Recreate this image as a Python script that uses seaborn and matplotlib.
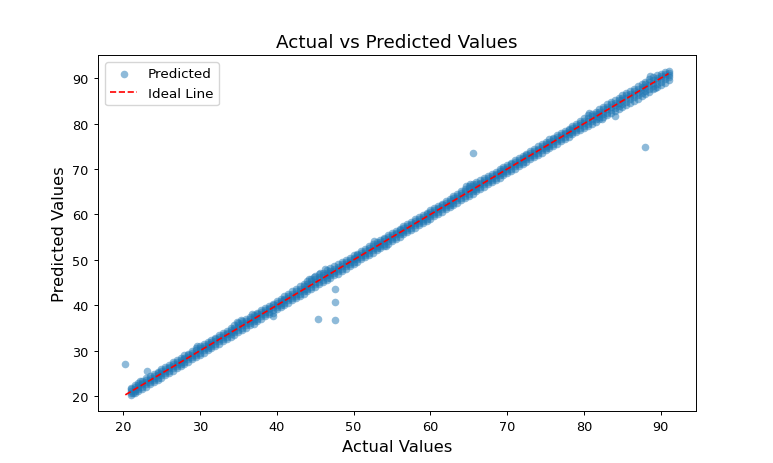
import matplotlib
matplotlib.use("Agg")
import matplotlib.pyplot as plt
import seaborn as sns
import pandas as pd

# Dense band of points along the diagonal:
# each actual value has five predicted values spread across the band.
band_actual = [
    21.0, 21.5, 22.0, 22.5, 23.0, 23.5, 24.0, 24.5, 25.0, 25.5,
    26.0, 26.5, 27.0, 27.5, 28.0, 28.5, 29.0, 29.5, 30.0, 30.5,
    31.0, 31.5, 32.0, 32.5, 33.0, 33.5, 34.0, 34.5, 35.0, 35.5,
    36.0, 36.5, 37.0, 37.5, 38.0, 38.5, 39.0, 39.5, 40.0, 40.5,
    41.0, 41.5, 42.0, 42.5, 43.0, 43.5, 44.0, 44.5, 45.0, 45.5,
    46.0, 46.5, 47.0, 47.5, 48.0, 48.5, 49.0, 49.5, 50.0, 50.5,
    51.0, 51.5, 52.0, 52.5, 53.0, 53.5, 54.0, 54.5, 55.0, 55.5,
    56.0, 56.5, 57.0, 57.5, 58.0, 58.5, 59.0, 59.5, 60.0, 60.5,
    61.0, 61.5, 62.0, 62.5, 63.0, 63.5, 64.0, 64.5, 65.0, 65.5,
    66.0, 66.5, 67.0, 67.5, 68.0, 68.5, 69.0, 69.5, 70.0, 70.5,
    71.0, 71.5, 72.0, 72.5, 73.0, 73.5, 74.0, 74.5, 75.0, 75.5,
    76.0, 76.5, 77.0, 77.5, 78.0, 78.5, 79.0, 79.5, 80.0, 80.5,
    81.0, 81.5, 82.0, 82.5, 83.0, 83.5, 84.0, 84.5, 85.0, 85.5,
    86.0, 86.5, 87.0, 87.5, 88.0, 88.5, 89.0, 89.5, 90.0, 90.5,
    91.0,
]
band_pred_upper = [
    21.9, 22.4, 23.0, 23.4, 23.9, 24.5, 24.9, 25.4, 26.0, 26.4,
    26.9, 27.5, 27.9, 28.4, 29.0, 29.4, 29.9, 30.6, 31.0, 31.4,
    32.0, 32.4, 32.9, 33.5, 34.0, 34.4, 35.1, 35.6, 36.2, 36.5,
    37.0, 37.4, 37.9, 38.4, 38.9, 39.4, 39.9, 40.4, 40.9, 41.4,
    42.0, 42.5, 43.1, 43.6, 44.2, 44.8, 45.4, 45.9, 46.4, 46.8,
    47.2, 47.7, 48.2, 48.6, 49.0, 49.5, 50.0, 50.5, 51.0, 51.4,
    51.9, 52.4, 53.0, 53.6, 54.0, 54.4, 54.9, 55.4, 55.9, 56.4,
    56.9, 57.4, 57.9, 58.4, 58.9, 59.4, 59.9, 60.4, 60.9, 61.4,
    61.9, 62.4, 62.9, 63.5, 64.0, 64.6, 65.2, 65.7, 66.3, 66.7,
    67.1, 67.5, 68.0, 68.4, 68.9, 69.4, 69.9, 70.4, 70.9, 71.4,
    71.9, 72.4, 72.9, 73.4, 73.9, 74.4, 75.0, 75.5, 76.0, 76.5,
    76.9, 77.4, 77.9, 78.4, 78.9, 79.5, 80.0, 80.6, 81.2, 81.8,
    82.2, 82.6, 83.1, 83.6, 84.2, 84.8, 85.2, 85.6, 86.2, 86.8,
    87.2, 87.6, 88.2, 88.8, 89.2, 89.7, 90.2, 90.6, 91.0, 91.3,
    91.5,
]
band_pred_upper_mid = [
    21.5, 22.0, 22.5, 23.0, 23.5, 24.0, 24.5, 25.0, 25.5, 26.0,
    26.5, 27.0, 27.5, 28.0, 28.5, 29.0, 29.5, 30.1, 30.6, 31.0,
    31.5, 32.0, 32.5, 33.0, 33.5, 34.0, 34.6, 35.1, 35.7, 36.1,
    36.5, 37.0, 37.5, 38.0, 38.5, 39.0, 39.5, 40.0, 40.5, 41.0,
    41.5, 42.0, 42.6, 43.1, 43.7, 44.2, 44.8, 45.3, 45.8, 46.3,
    46.7, 47.2, 47.6, 48.1, 48.5, 49.0, 49.5, 50.0, 50.5, 51.0,
    51.5, 52.0, 52.6, 53.1, 53.5, 54.0, 54.5, 55.0, 55.5, 56.0,
    56.5, 57.0, 57.5, 58.0, 58.5, 59.0, 59.5, 60.0, 60.5, 61.0,
    61.5, 62.0, 62.5, 63.0, 63.6, 64.1, 64.7, 65.2, 65.8, 66.2,
    66.6, 67.0, 67.5, 68.0, 68.5, 69.0, 69.5, 70.0, 70.5, 71.0,
    71.5, 72.0, 72.5, 73.0, 73.5, 74.0, 74.5, 75.0, 75.5, 76.0,
    76.5, 77.0, 77.5, 78.0, 78.5, 79.0, 79.5, 80.1, 80.6, 81.2,
    81.6, 82.1, 82.6, 83.1, 83.6, 84.2, 84.6, 85.1, 85.6, 86.2,
    86.6, 87.1, 87.6, 88.1, 88.6, 89.1, 89.6, 90.1, 90.5, 90.9,
    91.2,
]
band_pred_mid = [
    21.1, 21.6, 22.1, 22.6, 23.1, 23.6, 24.1, 24.6, 25.1, 25.6,
    26.1, 26.6, 27.1, 27.6, 28.1, 28.6, 29.1, 29.6, 30.1, 30.6,
    31.1, 31.6, 32.1, 32.6, 33.1, 33.6, 34.1, 34.6, 35.2, 35.6,
    36.1, 36.6, 37.1, 37.6, 38.1, 38.6, 39.1, 39.6, 40.1, 40.6,
    41.1, 41.6, 42.1, 42.6, 43.2, 43.7, 44.2, 44.7, 45.2, 45.7,
    46.2, 46.6, 47.1, 47.6, 48.1, 48.6, 49.1, 49.6, 50.1, 50.6,
    51.1, 51.6, 52.1, 52.6, 53.1, 53.6, 54.1, 54.6, 55.1, 55.6,
    56.1, 56.6, 57.1, 57.6, 58.1, 58.6, 59.1, 59.6, 60.1, 60.6,
    61.1, 61.6, 62.1, 62.6, 63.1, 63.6, 64.2, 64.7, 65.2, 65.7,
    66.1, 66.6, 67.1, 67.6, 68.1, 68.6, 69.1, 69.6, 70.1, 70.6,
    71.1, 71.6, 72.1, 72.6, 73.1, 73.6, 74.1, 74.6, 75.1, 75.6,
    76.1, 76.6, 77.1, 77.6, 78.1, 78.6, 79.1, 79.6, 80.1, 80.6,
    81.1, 81.6, 82.1, 82.6, 83.1, 83.6, 84.1, 84.6, 85.1, 85.6,
    86.1, 86.5, 87.0, 87.5, 88.0, 88.5, 89.0, 89.5, 90.0, 90.4,
    90.8,
]
band_pred_lower_mid = [
    20.6, 21.1, 21.6, 22.1, 22.6, 23.1, 23.6, 24.1, 24.6, 25.1,
    25.6, 26.1, 26.6, 27.1, 27.6, 28.1, 28.6, 29.1, 29.6, 30.1,
    30.6, 31.1, 31.6, 32.1, 32.6, 33.1, 33.6, 34.1, 34.6, 35.1,
    35.6, 36.1, 36.6, 37.1, 37.6, 38.1, 38.6, 39.0, 39.6, 40.1,
    40.6, 41.1, 41.6, 42.1, 42.6, 43.1, 43.6, 44.1, 44.6, 45.1,
    45.6, 46.1, 46.6, 47.1, 47.6, 48.1, 48.6, 49.1, 49.6, 50.1,
    50.6, 51.1, 51.6, 52.1, 52.6, 53.1, 53.6, 54.1, 54.6, 55.1,
    55.6, 56.1, 56.6, 57.1, 57.6, 58.1, 58.6, 59.1, 59.6, 60.1,
    60.6, 61.1, 61.6, 62.1, 62.6, 63.1, 63.6, 64.1, 64.6, 65.1,
    65.6, 66.1, 66.6, 67.1, 67.6, 68.1, 68.6, 69.1, 69.6, 70.1,
    70.6, 71.1, 71.6, 72.1, 72.6, 73.1, 73.6, 74.1, 74.6, 75.1,
    75.6, 76.1, 76.6, 77.1, 77.6, 78.1, 78.6, 79.1, 79.5, 80.0,
    80.5, 81.0, 81.5, 82.0, 82.4, 82.9, 83.4, 83.9, 84.4, 84.8,
    85.3, 85.8, 86.2, 86.7, 87.2, 87.7, 88.2, 88.7, 89.2, 89.7,
    90.2,
]
band_pred_lower = [
    20.3, 20.7, 21.1, 21.6, 22.1, 22.6, 23.1, 23.6, 24.1, 24.6,
    25.1, 25.6, 26.1, 26.6, 27.1, 27.6, 28.1, 28.6, 29.1, 29.6,
    30.1, 30.6, 31.1, 31.6, 32.1, 32.6, 33.0, 33.5, 34.1, 34.6,
    35.1, 35.6, 36.0, 36.5, 37.0, 37.6, 38.1, 38.4, 39.1, 39.6,
    40.1, 40.6, 41.1, 41.6, 42.1, 42.6, 43.1, 43.6, 44.1, 44.6,
    45.1, 45.6, 46.1, 46.6, 47.0, 47.6, 48.1, 48.6, 49.1, 49.6,
    50.1, 50.6, 51.1, 51.6, 52.1, 52.6, 53.1, 53.6, 54.1, 54.6,
    55.1, 55.6, 56.1, 56.6, 57.1, 57.6, 58.1, 58.6, 59.1, 59.6,
    60.1, 60.6, 61.1, 61.6, 62.1, 62.6, 63.1, 63.6, 64.1, 64.6,
    65.1, 65.6, 66.1, 66.6, 67.1, 67.6, 68.1, 68.6, 69.1, 69.6,
    70.1, 70.6, 71.1, 71.6, 72.1, 72.6, 73.1, 73.6, 74.1, 74.6,
    75.1, 75.6, 76.1, 76.6, 77.1, 77.6, 78.1, 78.6, 79.0, 79.5,
    80.0, 80.4, 80.9, 81.4, 81.9, 82.3, 82.7, 83.2, 83.6, 84.1,
    84.6, 85.0, 85.5, 86.0, 86.5, 87.0, 87.5, 88.0, 88.5, 89.0,
    89.6,
]

# Small bumps sticking out of the band
bump_actual = [21.3, 22.2, 29.6, 34.8, 35.3, 36.8, 39.5, 44.2, 44.8, 45.6,
               46.3, 52.6, 54.2, 64.6, 65.2, 80.6, 82.3, 84.0, 88.6, 89.2]
bump_predicted = [20.6, 23.4, 31.0, 36.3, 36.8, 38.2, 37.6, 45.7, 46.3, 47.2,
                  47.9, 54.2, 53.0, 66.2, 66.7, 82.4, 81.1, 81.6, 90.4, 87.9]

# Clear outliers
outlier_actual = [20.3, 23.1, 45.4, 47.6, 47.6, 47.6, 65.5, 87.9]
outlier_predicted = [27.2, 25.5, 37.0, 43.7, 40.7, 36.8, 73.5, 74.9]

actual_all = (band_actual * 5) + bump_actual + outlier_actual
predicted_all = (band_pred_upper + band_pred_upper_mid + band_pred_mid
                 + band_pred_lower_mid + band_pred_lower
                 + bump_predicted + outlier_predicted)
df = pd.DataFrame({"Actual": actual_all, "Predicted": predicted_all})

fig, ax = plt.subplots(figsize=(7.73, 4.64), dpi=100)
sns.scatterplot(data=df, x="Actual", y="Predicted", ax=ax, alpha=0.5,
                s=30, linewidth=0, color="#1f77b4", label="Predicted")
lo, hi = min(actual_all), max(actual_all)
ax.plot([lo, hi], [lo, hi], "r--", lw=1.2, label="Ideal Line")

ax.set_title("Actual vs Predicted Values", fontsize=13.2)
ax.set_xlabel("Actual Values", fontsize=11.8)
ax.set_ylabel("Predicted Values", fontsize=11.8)
ax.tick_params(labelsize=9.3, length=3.2, width=0.7)
for sp in ax.spines.values():
    sp.set_linewidth(0.7)
ax.legend(loc="upper left", fontsize=9.7)
fig.subplots_adjust(left=0.127, right=0.900, top=0.879, bottom=0.112)
fig.savefig("out.png", dpi=100)
